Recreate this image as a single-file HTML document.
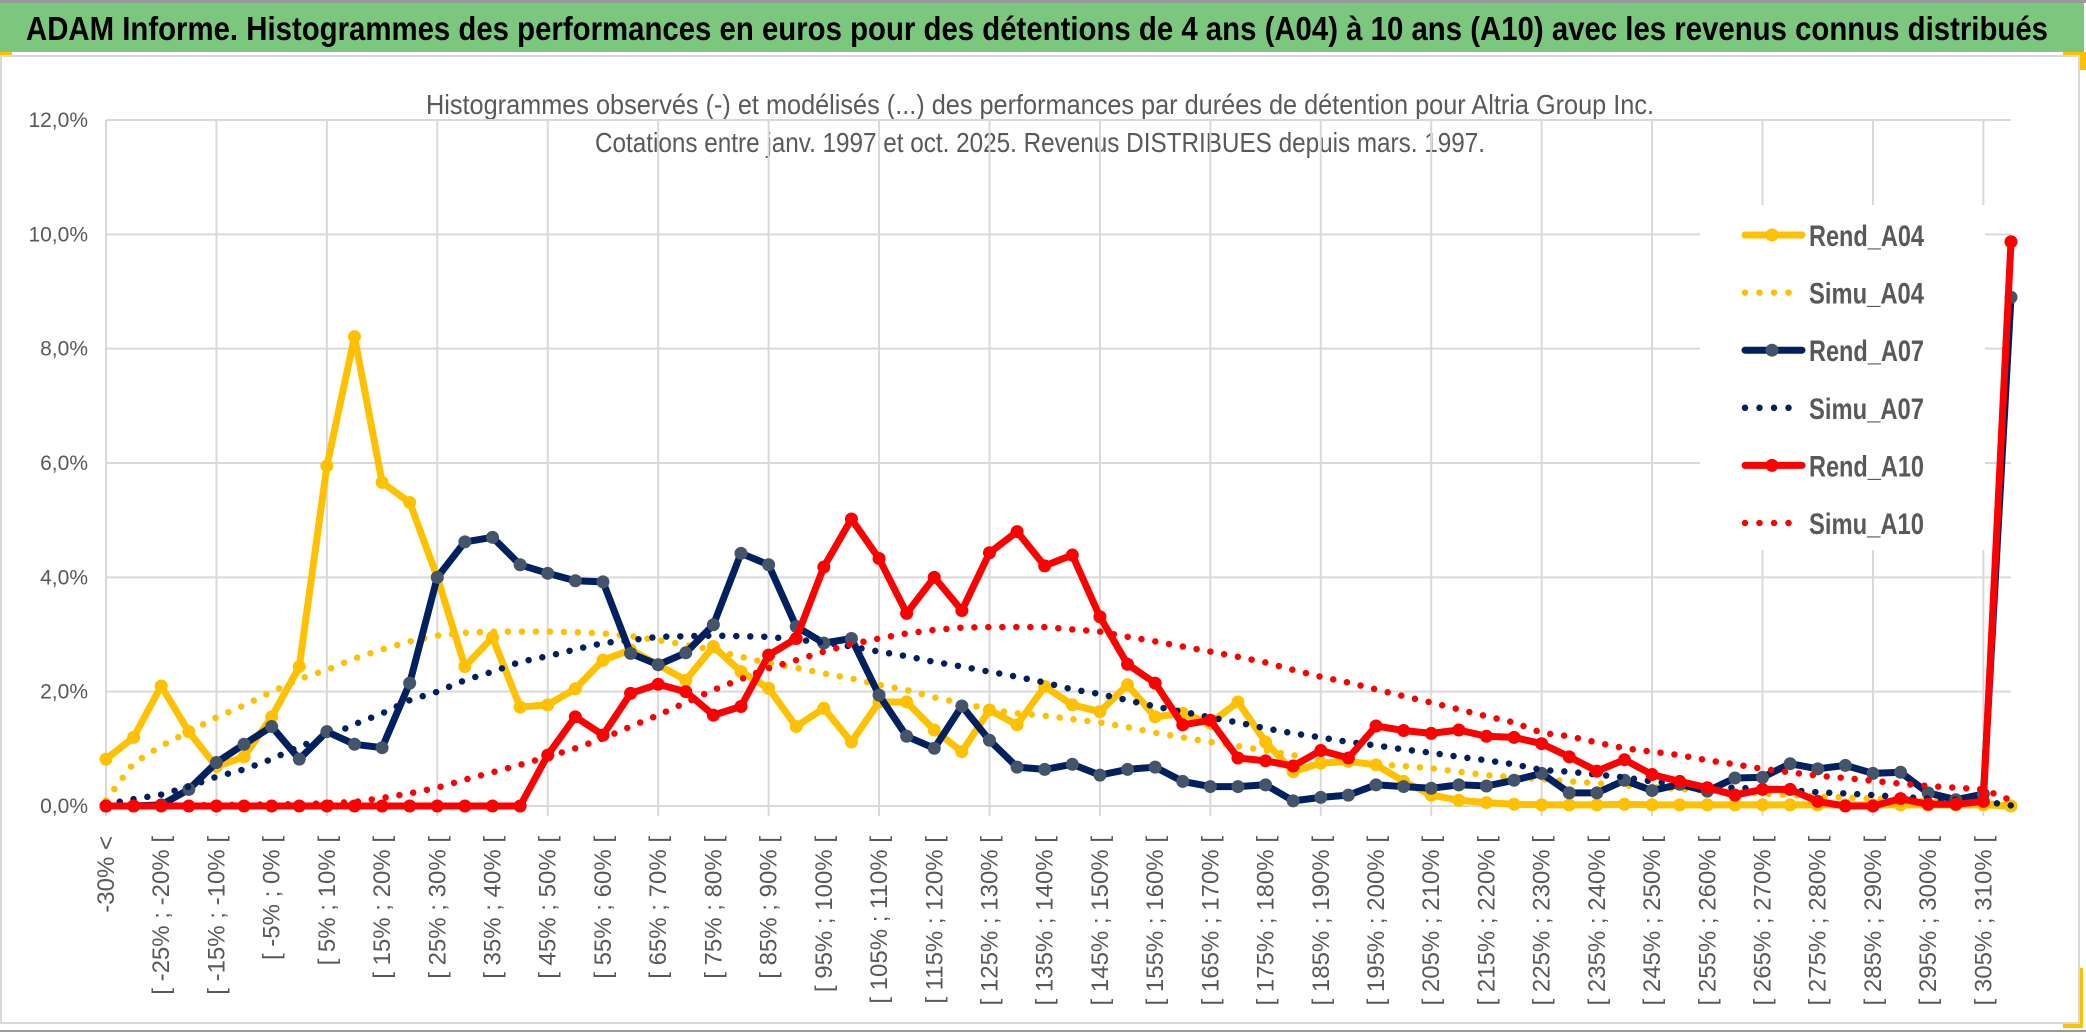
<!DOCTYPE html>
<html><head><meta charset="utf-8"><style>
html,body{margin:0;padding:0;background:#fff;}
svg{display:block;font-family:"Liberation Sans",sans-serif;}
</style></head><body>
<svg id="chart" width="2086" height="1033" viewBox="0 0 2086 1033" xmlns="http://www.w3.org/2000/svg">
<rect x="0" y="0" width="2086" height="1033" fill="#fff"/>
<rect x="0" y="0" width="2086" height="3" fill="#9a9a9a"/>
<rect x="0" y="3" width="2084" height="49" fill="#7cc77e"/>
<text x="26" y="40" font-size="33" font-weight="bold" fill="#000" textLength="2022" lengthAdjust="spacingAndGlyphs">ADAM Informe. Histogrammes des performances en euros pour des détentions de 4 ans (A04) à 10 ans (A10) avec les revenus connus distribués</text>
<rect x="0" y="52" width="12" height="4" fill="#ffc000"/>
<rect x="2063" y="52" width="23" height="18" fill="#ffc000"/>
<rect x="2063" y="968" width="20" height="60" fill="#ffc000"/>
<rect x="1" y="56" width="2078" height="967" fill="#fff" stroke="#d9d9d9" stroke-width="2"/>
<line x1="0" y1="1031" x2="2086" y2="1031" stroke="#9a9a9a" stroke-width="2"/>
<text x="1040" y="114" font-size="28" fill="#595959" text-anchor="middle" textLength="1228" lengthAdjust="spacingAndGlyphs">Histogrammes observés (-) et modélisés (...) des performances par durées de détention pour Altria Group Inc.</text>
<text x="1040" y="152" font-size="28" fill="#595959" text-anchor="middle" textLength="890" lengthAdjust="spacingAndGlyphs">Cotations entre janv. 1997 et oct. 2025. Revenus DISTRIBUES depuis mars. 1997.</text>
<g id="grid"></g>
<g id="ylabels"></g>
<g id="xlabels"></g>
<rect x="1700" y="205" width="285" height="345" fill="#fff"/>
<g id="series"></g>
<g id="legend"></g>
</svg>
<script>
const rendA04 = [0.82,1.20,2.10,1.30,0.69,0.86,1.56,2.44,5.95,8.21,5.66,5.31,4.00,2.44,2.95,1.73,1.77,2.05,2.55,2.73,2.47,2.20,2.79,2.35,2.06,1.39,1.71,1.12,1.82,1.82,1.33,0.95,1.68,1.42,2.09,1.77,1.65,2.12,1.56,1.62,1.45,1.82,1.12,0.60,0.75,0.78,0.72,0.43,0.19,0.10,0.06,0.03,0.02,0.02,0.02,0.03,0.02,0.02,0.02,0.02,0.02,0.02,0.02,0.02,0.02,0.02,0.02,0.02,0.02,0.00];
const simuA04 = [0.10,0.75,1.05,1.30,1.55,1.76,2.00,2.22,2.38,2.58,2.74,2.88,2.98,3.03,3.05,3.05,3.05,3.04,3.02,2.97,2.90,2.82,2.73,2.61,2.50,2.42,2.32,2.23,2.12,2.03,1.90,1.80,1.69,1.62,1.58,1.52,1.46,1.38,1.28,1.20,1.12,1.05,0.97,0.89,0.81,0.76,0.73,0.70,0.66,0.60,0.54,0.50,0.47,0.43,0.40,0.36,0.33,0.30,0.27,0.24,0.22,0.19,0.17,0.15,0.13,0.11,0.09,0.07,0.05,0.02];
const rendA07 = [0.00,0.00,0.02,0.29,0.76,1.08,1.39,0.82,1.30,1.08,1.02,2.15,4.00,4.62,4.70,4.22,4.07,3.94,3.92,2.67,2.47,2.68,3.17,4.42,4.22,3.14,2.85,2.93,1.94,1.22,1.01,1.75,1.15,0.68,0.64,0.73,0.54,0.64,0.68,0.43,0.34,0.34,0.37,0.09,0.15,0.19,0.37,0.34,0.31,0.37,0.35,0.45,0.57,0.23,0.23,0.45,0.27,0.38,0.26,0.49,0.50,0.74,0.65,0.71,0.57,0.59,0.23,0.11,0.21,8.90];
const simuA07 = [0.03,0.12,0.20,0.34,0.51,0.64,0.82,1.04,1.21,1.43,1.62,1.85,2.00,2.20,2.35,2.52,2.62,2.74,2.85,2.90,2.96,2.97,2.98,2.97,2.96,2.91,2.86,2.79,2.70,2.62,2.52,2.44,2.35,2.26,2.16,2.04,1.96,1.85,1.74,1.65,1.55,1.46,1.36,1.27,1.20,1.12,1.06,0.99,0.93,0.86,0.80,0.73,0.63,0.60,0.55,0.50,0.43,0.38,0.33,0.32,0.30,0.28,0.24,0.22,0.19,0.16,0.13,0.11,0.08,0.01];
const rendA10 = [0,0,0,0,0,0,0,0,0,0,0,0,0,0,0,0,0.89,1.56,1.24,1.97,2.13,2.00,1.59,1.74,2.64,2.93,4.18,5.02,4.33,3.37,4.00,3.42,4.43,4.80,4.20,4.39,3.31,2.48,2.15,1.42,1.50,0.84,0.79,0.70,0.97,0.84,1.40,1.32,1.27,1.33,1.22,1.20,1.09,0.86,0.61,0.81,0.55,0.43,0.32,0.19,0.29,0.29,0.08,0.00,0.00,0.13,0.03,0.03,0.08,9.87];
const simuA10 = [0,0,0.01,0.01,0.02,0.02,0.03,0.03,0.05,0.07,0.14,0.22,0.32,0.46,0.59,0.72,0.86,1.01,1.18,1.39,1.59,1.81,2.03,2.22,2.41,2.55,2.70,2.83,2.93,3.02,3.08,3.12,3.13,3.13,3.13,3.09,3.05,2.96,2.88,2.79,2.70,2.61,2.51,2.38,2.26,2.16,2.04,1.92,1.81,1.69,1.57,1.46,1.28,1.22,1.11,1.01,0.95,0.89,0.80,0.73,0.65,0.59,0.53,0.49,0.44,0.39,0.35,0.32,0.29,0.10];
const yTicks = [0,2,4,6,8,10,12];
const yTickLabels = ["0,0%","2,0%","4,0%","6,0%","8,0%","10,0%","12,0%"];
const categories = ["-30% <"];
for (let k = 1; k < 70; k++) categories.push("[ " + (-35 + 5*k) + "% ; " + (-30 + 5*k) + "% [");

const NS = "http://www.w3.org/2000/svg";
const X0 = 106, X1 = 2011, Y0 = 806, YTOP = 120, YMAX = 12;
const nCat = categories.length;
function xPos(i){ return X0 + i*(X1-X0)/(nCat-1); }
function yPos(v){ return Y0 - v*(Y0-YTOP)/YMAX; }
function mk(tag, attrs, parent){
  const e = document.createElementNS(NS, tag);
  for (const k in attrs) e.setAttribute(k, attrs[k]);
  parent.appendChild(e); return e;
}
const grid = document.getElementById('grid');
for (let i = 0; i < nCat; i += 4) {
  const l = mk('line', {x1:xPos(i), x2:xPos(i), y1:YTOP, y2:Y0+10, stroke:'#d9d9d9', 'stroke-width':2}, grid);
  
  
}
const yl = document.getElementById('ylabels');
yTicks.forEach((t, j) => {
  const l = mk('line', {x1:X0, x2:X1, y1:yPos(t), y2:yPos(t), stroke:'#d9d9d9', 'stroke-width':2}, grid);
  
  
  const tx = mk('text', {x:88, y:yPos(t)+7, 'font-size':21, fill:'#595959', 'text-anchor':'end'}, yl);
  tx.textContent = yTickLabels[j];
  
  
});
const xl = document.getElementById('xlabels');
for (let i = 0; i < nCat; i += 2) {
  const x = xPos(i) + 8, y = 836;
  const tx = mk('text', {x:x, y:y, 'font-size':24, fill:'#595959', 'text-anchor':'end', transform:'rotate(-90 '+x+' '+y+')'}, xl);
  tx.textContent = categories[i];
  
  
}
const sg = document.getElementById('series');
function pts(arr){ return arr.map((v,i)=>xPos(i).toFixed(1)+','+yPos(v).toFixed(1)).join(' '); }
function solid(arr, color, mfill, name){
  const g = mk('g', {}, sg);
  
  
  const pl = mk('polyline', {points:pts(arr), fill:'none', stroke:color, 'stroke-width':7, 'stroke-linejoin':'round', 'stroke-linecap':'round'}, g);
  
  
  arr.forEach((v,i) => {
    const c = mk('circle', {cx:xPos(i), cy:yPos(v), r:6.5, fill:mfill}, g);
    
    
  });
}
function dotted(arr, color, name){
  const pl = mk('polyline', {points:pts(arr), fill:'none', stroke:color, 'stroke-width':6.5, 'stroke-linecap':'round', 'stroke-dasharray':'0 14'}, sg);
  
  
}
solid(rendA04, '#ffc000', '#ffc000', 'rend-a04-series');
dotted(simuA04, '#ffc000', 'simu-a04-series');
solid(rendA07, '#002060', '#44546a', 'rend-a07-series');
dotted(simuA07, '#002060', 'simu-a07-series');
solid(rendA10, '#ff0000', '#ff0000', 'rend-a10-series');
dotted(simuA10, '#ff0000', 'simu-a10-series');

const lg = document.getElementById('legend');
const legendNames = ["Rend_A04","Simu_A04","Rend_A07","Simu_A07","Rend_A10","Simu_A10"];
const legendColors = ['#ffc000','#ffc000','#002060','#002060','#ff0000','#ff0000'];
const legendMarkers = ['#ffc000',null,'#44546a',null,'#ff0000',null];
legendNames.forEach((n, j) => {
  const y = 235 + j*57.6;
  const g = mk('g', {}, lg);
  
  
  if (legendMarkers[j]) {
    mk('line', {x1:1745, x2:1802, y1:y, y2:y, stroke:legendColors[j], 'stroke-width':7, 'stroke-linecap':'round'}, g);
    mk('circle', {cx:1772, cy:y, r:6.5, fill:legendMarkers[j]}, g);
  } else {
    mk('line', {x1:1745, x2:1800, y1:y, y2:y, stroke:legendColors[j], 'stroke-width':6.5, 'stroke-linecap':'round', 'stroke-dasharray':'0 14.5'}, g);
  }
  const t = mk('text', {x:1809, y:y+11, 'font-size':30, 'font-weight':'bold', fill:'#595959', textLength:115, lengthAdjust:'spacingAndGlyphs'}, g);
  t.textContent = n;
});
</script>
</body></html>
